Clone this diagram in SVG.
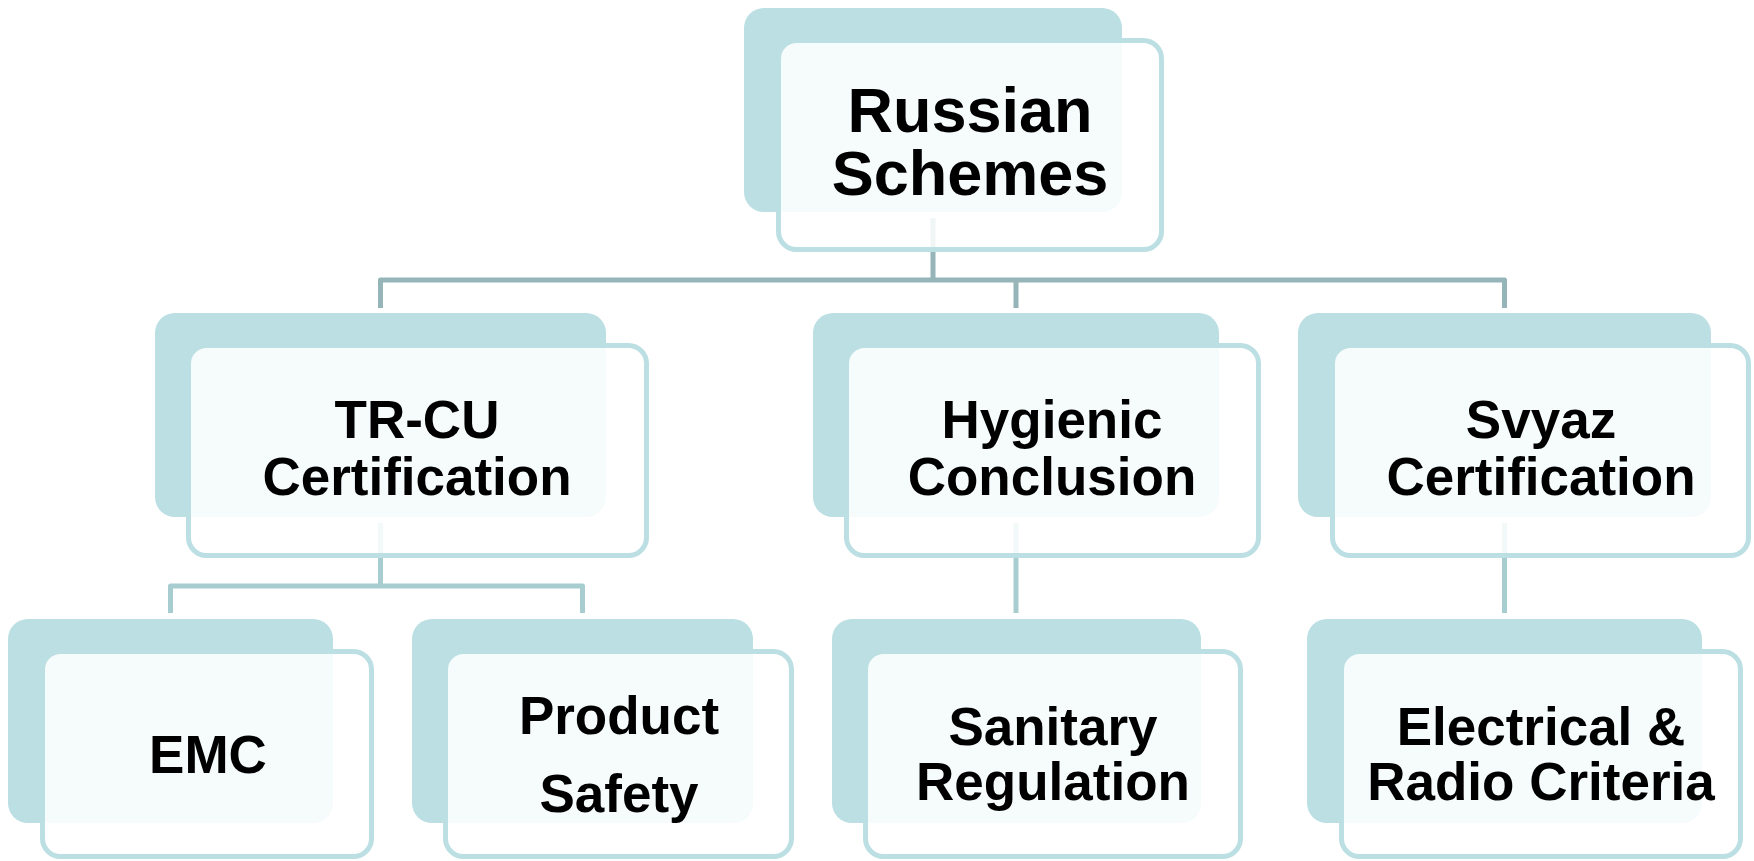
<svg xmlns="http://www.w3.org/2000/svg" width="1754" height="861" viewBox="0 0 1754 861">
<style>
.back{fill:#BBDFE2;}
.front{fill:#FFFFFF;fill-opacity:0.86;stroke:#BBDFE2;stroke-width:5;}
.lbl{font-family:"Liberation Sans",Arial,sans-serif;font-weight:bold;font-size:53px;fill:#000;text-anchor:middle;}
.root{font-size:63px;}
.c1{fill:none;stroke:#95B5B9;stroke-width:5;stroke-linejoin:round;}
.c2{fill:none;stroke:#A8CDD0;stroke-width:5;stroke-linejoin:round;}
</style>
<rect width="1754" height="861" fill="#FFFFFF"/>
<g id="back-layer">
<rect class="back" x="744" y="8" width="378" height="204" rx="20"/>
<rect class="back" x="155" y="313" width="451" height="204" rx="20"/>
<rect class="back" x="813" y="313" width="406" height="204" rx="20"/>
<rect class="back" x="1298" y="313" width="413" height="204" rx="20"/>
<rect class="back" x="8" y="619" width="325" height="204" rx="20"/>
<rect class="back" x="412" y="619" width="341" height="204" rx="20"/>
<rect class="back" x="832" y="619" width="369" height="204" rx="20"/>
<rect class="back" x="1307" y="619" width="395" height="204" rx="20"/>
</g>
<g id="connectors">
<path class="c1" d="M933,218 V280"/>
<path class="c1" d="M380.5,308 V280 H1504.5 V308"/>
<path class="c1" d="M1016,280 V308"/>
<path class="c2" d="M380.5,523 V586"/>
<path class="c2" d="M170.5,613 V586 H582.5 V613"/>
<path class="c2" d="M1016,523 V613"/>
<path class="c2" d="M1504.5,523 V613"/>
</g>
<g id="node-root">
<rect class="front" x="778.5" y="40.5" width="383" height="209" rx="18"/>
<text class="lbl root" x="970" y="132">Russian</text>
<text class="lbl root" x="970" y="195">Schemes</text>
</g>
<g id="node-trcu">
<rect class="front" x="188.5" y="345.5" width="458" height="210" rx="18"/>
<text class="lbl" x="417" y="438">TR-CU</text>
<text class="lbl" x="417" y="495">Certification</text>
</g>
<g id="node-hygienic">
<rect class="front" x="846.5" y="345.5" width="412" height="210" rx="18"/>
<text class="lbl" x="1052" y="438">Hygienic</text>
<text class="lbl" x="1052" y="495">Conclusion</text>
</g>
<g id="node-svyaz">
<rect class="front" x="1332.5" y="345.5" width="416" height="210" rx="18"/>
<text class="lbl" x="1541" y="438">Svyaz</text>
<text class="lbl" x="1541" y="495">Certification</text>
</g>
<g id="node-emc">
<rect class="front" x="42.5" y="651.5" width="329" height="205" rx="18"/>
<text class="lbl" x="208" y="773">EMC</text>
</g>
<g id="node-product-safety">
<rect class="front" x="445.5" y="651.5" width="346" height="205" rx="18"/>
<text class="lbl" x="619" y="734">Product</text>
<text class="lbl" x="619" y="812">Safety</text>
</g>
<g id="node-sanitary">
<rect class="front" x="865.5" y="651.5" width="375" height="205" rx="18"/>
<text class="lbl" x="1053" y="745">Sanitary</text>
<text class="lbl" x="1053" y="800">Regulation</text>
</g>
<g id="node-electrical">
<rect class="front" x="1341.5" y="651.5" width="399" height="205" rx="18"/>
<text class="lbl" x="1541" y="745">Electrical &amp;</text>
<text class="lbl" x="1541" y="800">Radio Criteria</text>
</g>
</svg>
